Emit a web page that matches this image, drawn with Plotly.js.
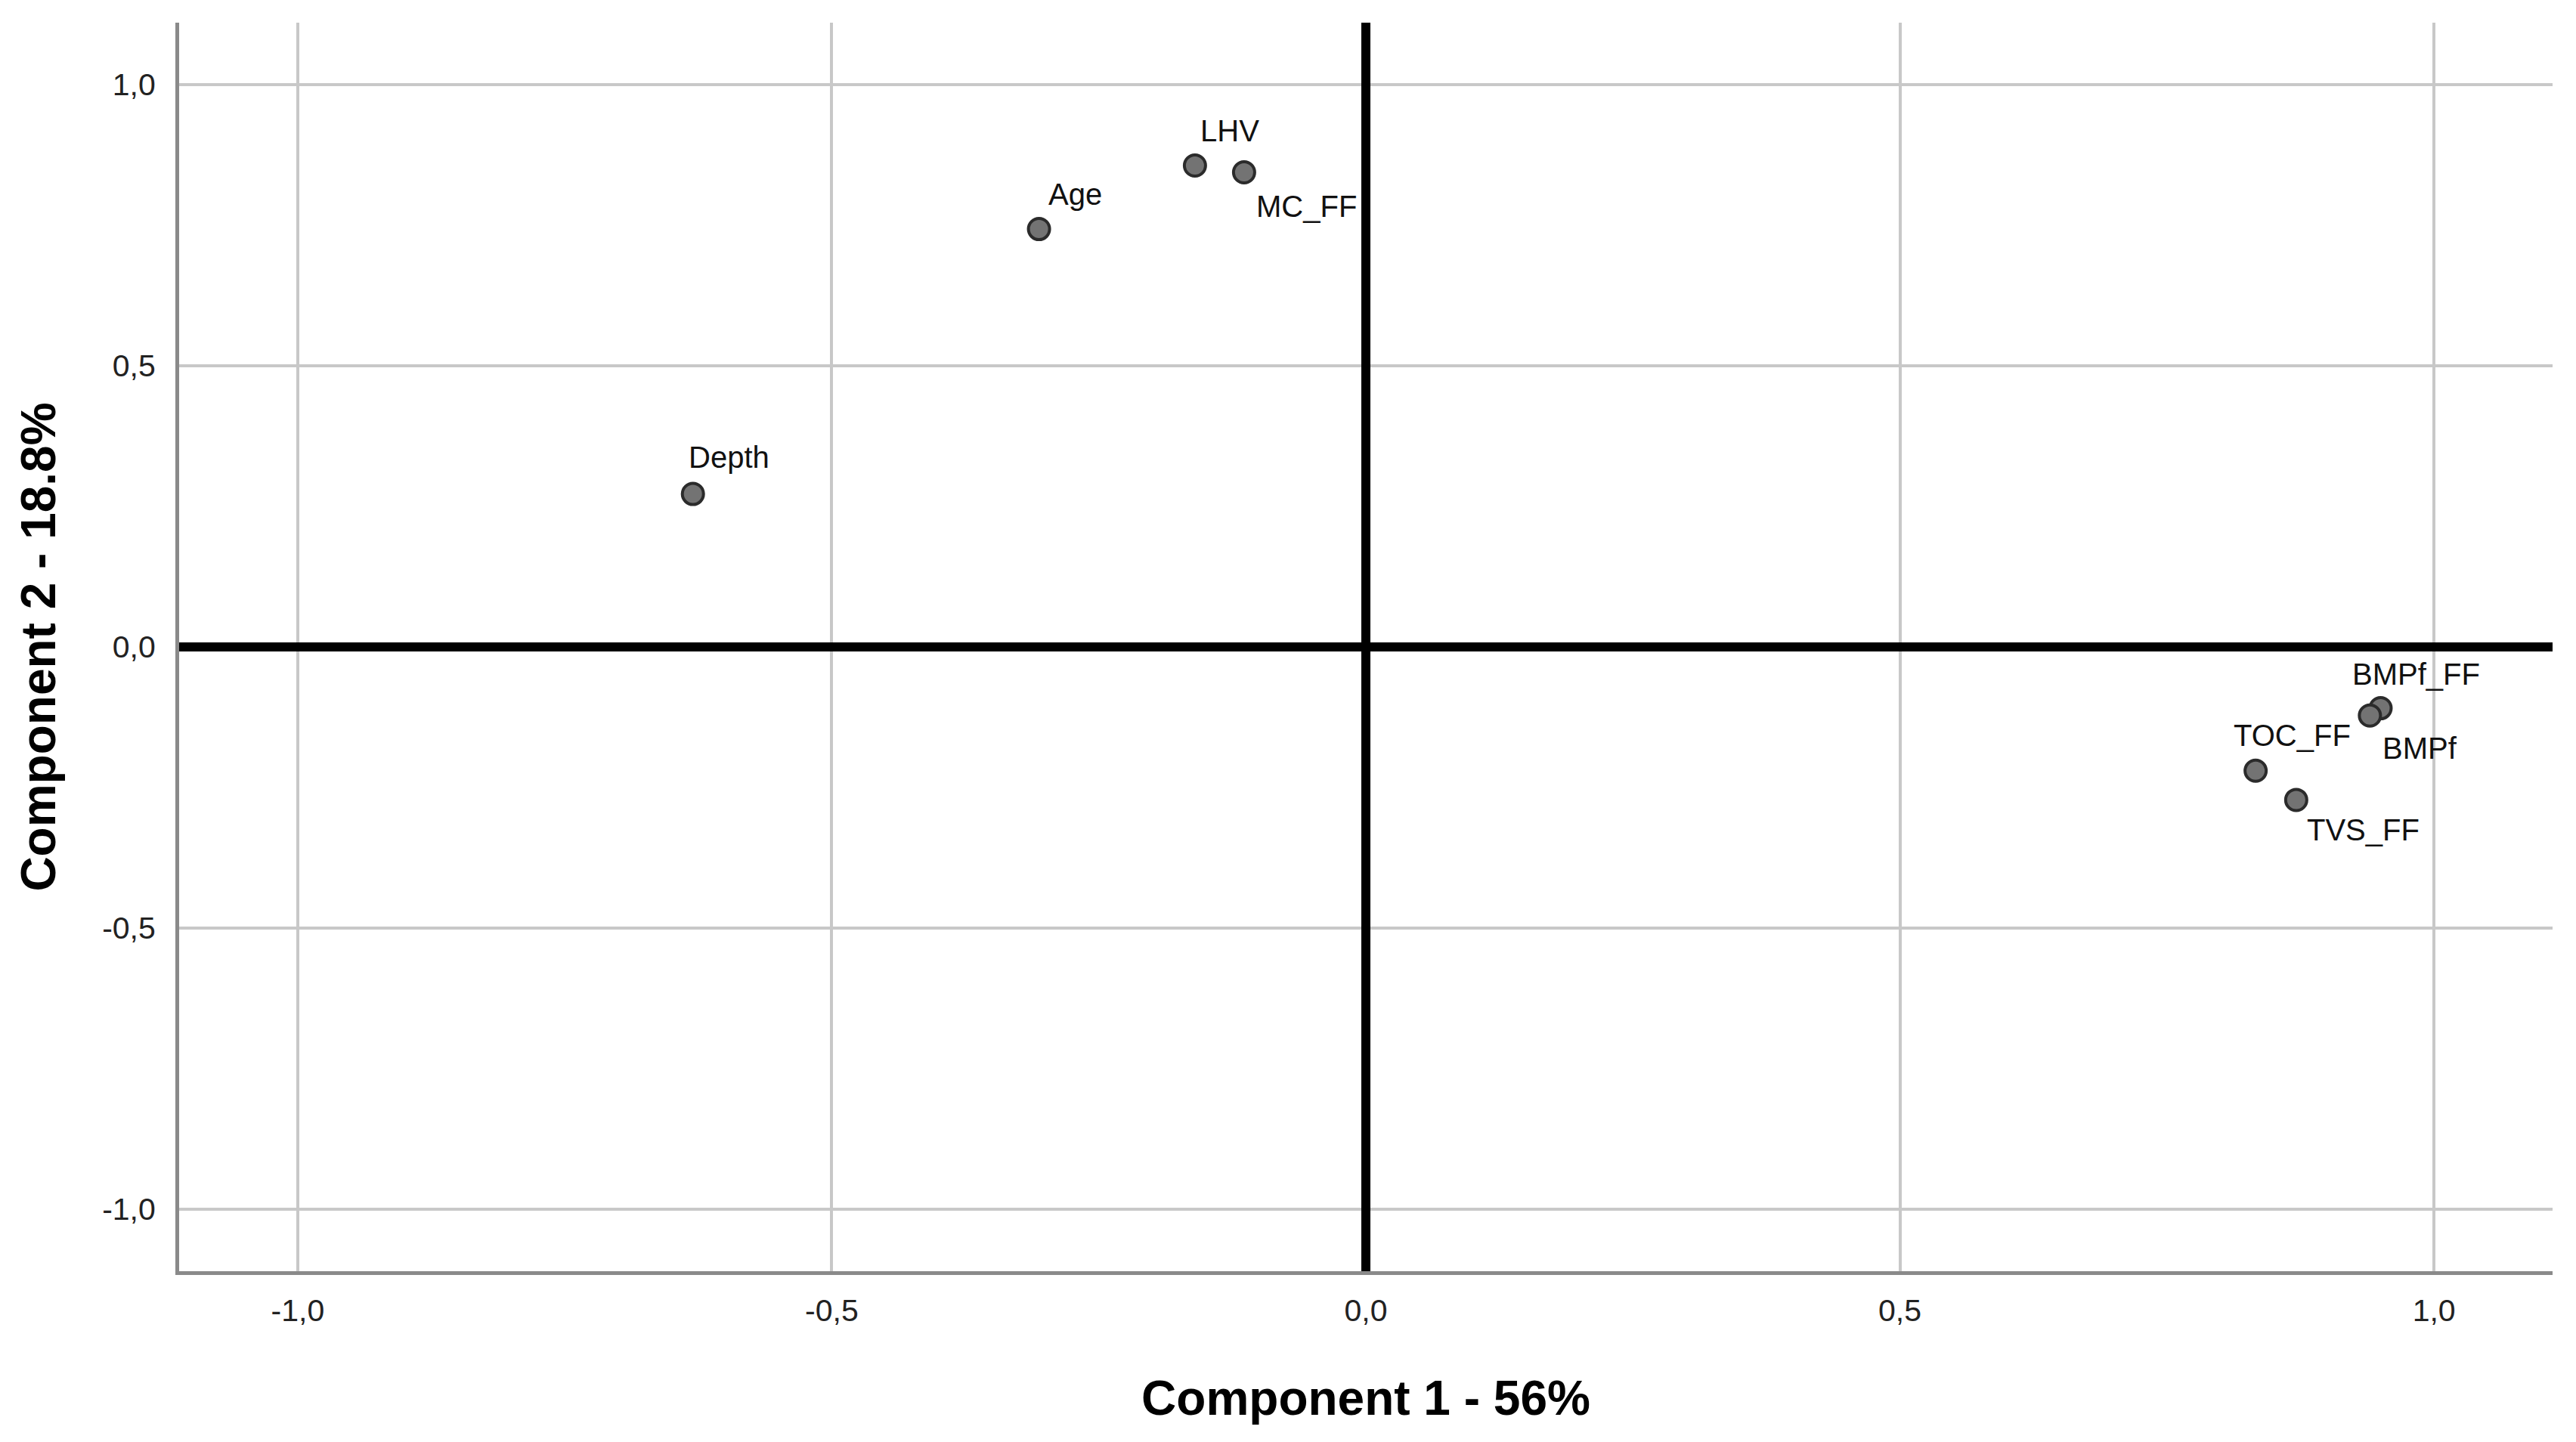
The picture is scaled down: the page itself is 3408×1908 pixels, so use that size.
<!DOCTYPE html>
<html>
<head>
<meta charset="utf-8">
<script src="https://cdn.plot.ly/plotly-3.0.1.min.js"></script>
<style>
  html, body { margin: 0; padding: 0; background: #ffffff; }
  #chart { width: 3408px; height: 1908px; }
</style>
</head>
<body>
<div id="chart"></div>
<script>
// Component loadings
const variables = ["Depth", "Age", "LHV", "MC_FF", "BMPf_FF", "BMPf", "TOC_FF", "TVS_FF"];
const component1 = [-0.630, -0.306, -0.160, -0.114, 0.950, 0.940, 0.833, 0.871];
const component2 = [0.272, 0.743, 0.856, 0.844, -0.109, -0.122, -0.220, -0.272];
const tickValues = [-1.0, -0.5, 0.0, 0.5, 1.0];
const tickLabels = ["-1,0", "-0,5", "0,0", "0,5", "1,0"];
const xTitle = "Component 1 - 56%";
const yTitle = "Component 2 - 18.8%";

// Label placement offsets (pixels; style only)
const labelShiftX = [-8, 10, 5, 14, -39, 15, -31, 12];
const labelShiftY = [49, 46, 46, -45, 45, -43, 47, -40];

const FONT = "Arial, 'Liberation Sans', Helvetica, sans-serif";

const trace = {
  type: "scatter",
  mode: "markers",
  x: component1,
  y: component2,
  text: variables,
  hoverinfo: "text",
  marker: {
    size: 28,
    color: "#737373",
    line: { color: "#2b2b2b", width: 4 }
  },
  showlegend: false
};

const annotations = variables.map((v, i) => ({
  x: component1[i],
  y: component2[i],
  xref: "x",
  yref: "y",
  text: v,
  showarrow: false,
  xanchor: "left",
  yanchor: "middle",
  xshift: labelShiftX[i],
  yshift: labelShiftY[i],
  font: { family: FONT, size: 40, color: "#111111" }
}));

const axisCommon = {
  tickmode: "array",
  tickvals: tickValues,
  ticktext: tickLabels,
  ticks: "",
  showgrid: true,
  gridcolor: "#c8c8c8",
  gridwidth: 4,
  zeroline: true,
  zerolinecolor: "#000000",
  zerolinewidth: 12,
  showline: true,
  linecolor: "#8a8a8a",
  linewidth: 5,
  mirror: false,
  tickfont: { family: FONT, size: 41, color: "#222222" },
  fixedrange: true
};

const layout = {
  width: 3408,
  height: 1908,
  paper_bgcolor: "#ffffff",
  plot_bgcolor: "#ffffff",
  margin: { l: 237, r: 31, t: 30, b: 226, autoexpand: false },
  xaxis: Object.assign({}, axisCommon, {
    range: [-1.111, 1.111],
    ticklabelstandoff: 12,
    title: { text: xTitle, font: { family: FONT, size: 64, color: "#000000", weight: "bold" }, standoff: 72 }
  }),
  yaxis: Object.assign({}, axisCommon, {
    range: [-1.11, 1.11],
    ticklabelstandoff: 18,
    title: { text: yTitle, font: { family: FONT, size: 64, color: "#000000", weight: "bold" }, standoff: 42 }
  }),
  annotations: annotations
};

Plotly.newPlot("chart", [trace], layout, { displayModeBar: false, staticPlot: true });
</script>
</body>
</html>
